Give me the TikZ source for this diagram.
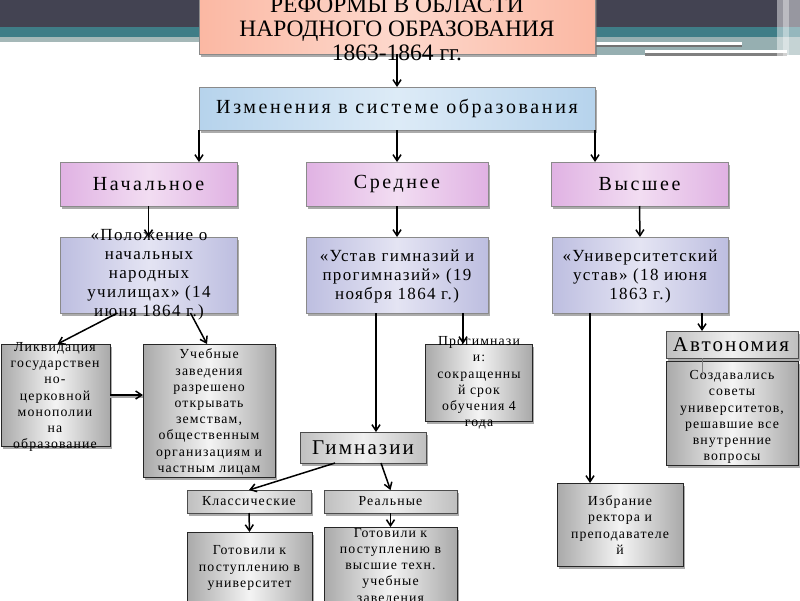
\documentclass[tikz,border=0pt]{standalone}
\usepackage{fontspec}
\setmainfont{Liberation Serif}
\newfontfamily\widefont[LetterSpace=13]{Liberation Serif}
\newfontfamily\labfont[LetterSpace=10]{Liberation Serif}
\newfontfamily\midfont[LetterSpace=8]{Liberation Serif}
\newfontfamily\smallfont[LetterSpace=8]{Liberation Serif}
\usetikzlibrary{arrows.meta,shadows,calc}
\definecolor{banddark}{HTML}{434352}
\definecolor{bandteal}{HTML}{3F7D87}
\definecolor{bandlight}{HTML}{A5B8B8}
\definecolor{salmon}{HTML}{FBB8A3}
\definecolor{salmonlt}{HTML}{FDD8CC}
\definecolor{skyb}{HTML}{B6D3EC}
\definecolor{skybl}{HTML}{DDEBF7}
\definecolor{pinkv}{HTML}{E0B2E3}
\definecolor{pinkvl}{HTML}{F2DDF2}
\definecolor{lav}{HTML}{BDBEE0}
\definecolor{lavl}{HTML}{E4E4F3}
\definecolor{grayd}{HTML}{A9A9A9}
\definecolor{grayl}{HTML}{F4F4F4}
\definecolor{edgegray}{HTML}{8A8A8A}
\tikzset{
  every node/.style={inner sep=0pt, outer sep=0pt},
  basebox/.style={draw=edgegray, line width=0.8pt, rectangle,
    drop shadow={shadow xshift=2pt, shadow yshift=-2.5pt, fill=black!55, opacity=0.6}},
  titlebox/.style={basebox, left color=salmon, right color=salmon, middle color=salmonlt},
  bluebox/.style={basebox, left color=skyb, right color=skyb, middle color=skybl},
  pinkbox/.style={basebox, left color=pinkv, right color=pinkv, middle color=pinkvl},
  lavbox/.style={basebox, left color=lav, right color=lav, middle color=lavl},
  greybox/.style={basebox, draw=black!85, left color=grayd, right color=grayd, middle color=grayl},
  labelbox/.style={basebox, draw=black!70, left color=black!25, right color=black!25, middle color=black!6},
  titletxt/.style={align=center, font=\fontsize{23.5}{24}\selectfont},
  bigtxt/.style={align=center, font=\widefont\fontsize{20}{22}\selectfont},
  labtxt/.style={align=center, font=\labfont\fontsize{21}{22}\selectfont},
  lavtxt/.style={align=center, font=\midfont\fontsize{17}{19}\selectfont},
  smalltxt/.style={align=center, font=\smallfont\fontsize{13.8}{16.2}\selectfont},
  arr/.style={-{Straight Barb[length=6pt,width=8pt]}, line width=1.5pt, black},
}
\begin{document}
\begin{tikzpicture}[x=1pt,y=-1pt]
\useasboundingbox (0,0) rectangle (800,600);
\clip (0,0) rectangle (800,600);
\fill[white] (0,0) rectangle (800,600);
% top band decoration
\fill[banddark] (0,0) rectangle (800,27);
\fill[bandteal] (0,27) rectangle (800,37);
\fill[bandlight] (0,37) rectangle (800,42);
\fill[bandlight!85!bandteal] (596,37) rectangle (800,55);
\fill[white] (596,42) rectangle (742,45);
\fill[black!55] (596,45) rectangle (742,47);
\fill[white] (645,50) rectangle (787,53);
\fill[black!50] (645,53) rectangle (787,56);
\fill[white, opacity=0.45] (777,0) rectangle (800,56);
\fill[white, opacity=0.35] (783,0) rectangle (789,56);

% boxes
\node[titlebox, minimum width=396, minimum height=60] (title) at (397,24) {};
\node[bluebox, minimum width=396, minimum height=43] (izm) at (397,108.5) {};
\node[pinkbox, minimum width=177, minimum height=44] (nach) at (148.5,184) {};
\node[pinkbox, minimum width=182, minimum height=44] (sred) at (397,184) {};
\node[pinkbox, minimum width=177, minimum height=44] (vys) at (639.5,184) {};
\node[lavbox, minimum width=177, minimum height=76] (pol) at (148.5,275) {};
\node[lavbox, minimum width=182, minimum height=76] (ust) at (397,275) {};
\node[lavbox, minimum width=176, minimum height=76] (univ) at (640,275) {};
\node[greybox, minimum width=109, minimum height=102] (likv) at (55.5,395) {};
\node[greybox, minimum width=132, minimum height=133] (ucheb) at (209,410.5) {};
\node[greybox, minimum width=107, minimum height=77] (progim) at (478.5,382.5) {};
\node[labelbox, minimum width=126, minimum height=31] (gimn) at (363,447.5) {};
\node[labelbox, minimum width=132, minimum height=27] (avt) at (732,344.5) {};
\node[greybox, minimum width=132, minimum height=104] (sozd) at (732,413) {};
\node[labelbox, minimum width=124, minimum height=23] (klass) at (249,501.5) {};
\node[labelbox, minimum width=133, minimum height=23] (real) at (390.5,501.5) {};
\node[greybox, minimum width=125, minimum height=78] (got1) at (249.5,571) {};
\node[greybox, minimum width=133, minimum height=83] (got2) at (390.5,568.5) {};
\node[greybox, minimum width=126, minimum height=83] (izbr) at (620,524.5) {};

% texts
\node[titletxt] (titlet) at (397,29) {РЕФОРМЫ В ОБЛАСТИ\\НАРОДНОГО ОБРАЗОВАНИЯ\\1863-1864 гг.};
\node[bigtxt] (izmt) at (izm) {Изменения в системе образования};
\node[bigtxt] (nacht) at (nach) {Начальное};
\node[bigtxt] (sredt) at (sred) {Среднее};
\node[bigtxt] (vyst) at (vys) {Высшее};
\node[lavtxt] (polt) at (149,275) {«Положение о\\начальных\\народных\\училищах» (14\\июня 1864 г.)};
\node[lavtxt] (ustt) at (397,276) {«Устав гимназий и\\прогимназий» (19\\ноября 1864 г.)};
\node[lavtxt] (univt) at (640,276) {«Университетский\\устав» (18 июня\\1863 г.)};
\node[smalltxt] (likvt) at (55,397) {Ликвидация\\государствен\\но-\\церковной\\монополии\\на\\образование};
\node[smalltxt] (uchebt) at (209,412) {Учебные\\заведения\\разрешено\\открывать\\земствам,\\общественным\\организациям и\\частным лицам};
\node[smalltxt] (progimt) at (479,383) {Прогимнази\\и:\\сокращенны\\й срок\\обучения 4\\года};
\node[labtxt] (gimnt) at (gimn) {Гимназии};
\node[labtxt] (avtt) at (731,345) {Автономия};
\node[smalltxt] (sozdt) at (732,417) {Создавались\\советы\\университетов,\\решавшие все\\внутренние\\вопросы};
\node[smalltxt] (klasst) at (klass) {Классические};
\node[smalltxt] (realt) at (real) {Реальные};
\node[smalltxt] (got1t) at (249.5,568) {Готовили к\\поступлению в\\университет};
\node[smalltxt] (got2t) at (390.5,566.5) {Готовили к\\поступлению в\\высшие техн.\\учебные\\заведения};
\node[smalltxt] (izbrt) at (620,525) {Избрание\\ректора и\\преподавателе\\й};

% connectors
\draw[arr] (title.south) -- (izm.north);
\draw[arr] (izm.south west) -- (izm.south west |- nach.north);
\draw[arr] (izm.south) -- (sred.north);
\draw[arr] (izm.south east) -- (izm.south east |- vys.north);
\draw[arr] (nach.south) -- (pol.north);
\draw[arr] (sred.south) -- (ust.north);
\draw[arr] (vys.south) -- (univ.north);
\draw[arr] ([xshift=-31pt]pol.south) -- ([xshift=2pt]likv.north);
\draw[arr] ([xshift=42pt]pol.south) -- ([xshift=-2pt]ucheb.north);
\draw[line width=2pt, black!35] ([yshift=-2pt]likv.east) -- ([yshift=-2pt]likv.east -| ucheb.west);
\draw[arr] (likv.east) -- (likv.east -| ucheb.west);
\draw[arr] ([xshift=-21pt]ust.south) -- ([xshift=-21pt]ust.south |- gimn.north);
\draw[arr] ([xshift=66pt]ust.south) -- ([xshift=66pt]ust.south |- progim.north);
\draw[arr] ([xshift=-50pt]univ.south) -- ([xshift=-50pt]univ.south |- izbr.north);
\draw[arr] ([xshift=62pt]univ.south) -- ([xshift=62pt]univ.south |- avt.north);
\draw[line width=0.8pt, black!50] ([xshift=-30pt]avt.south) -- ([xshift=-30pt, yshift=-14pt]sozd.north);
\draw[arr] ([xshift=-28pt]gimn.south) -- (klass.north);
\draw[arr] ([xshift=18pt]gimn.south) -- (real.north);
\draw[arr] (klass.south) -- (got1.north);
\draw[arr] (real.south) -- (got2.north);
\end{tikzpicture}
\end{document}
